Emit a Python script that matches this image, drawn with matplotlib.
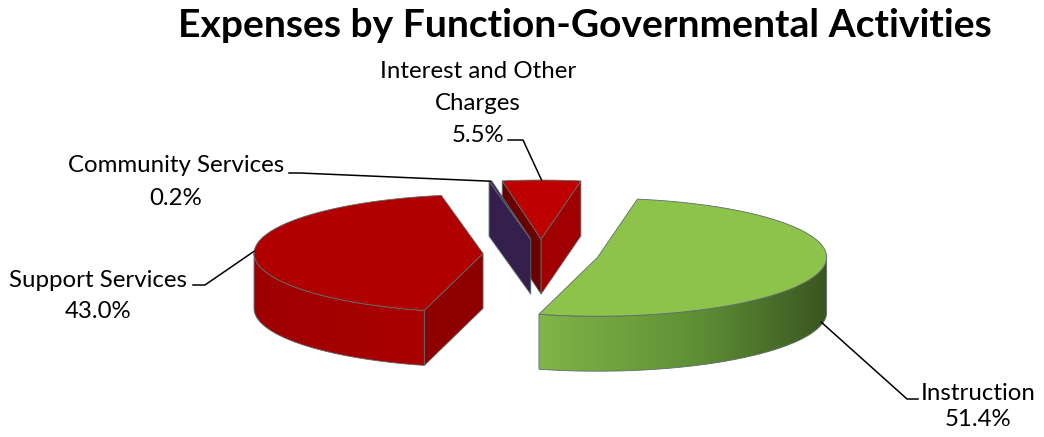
import numpy as np
import matplotlib.pyplot as plt
from matplotlib.patches import Polygon
from matplotlib.colors import to_rgb

# data
categories = ['Instruction', 'Support Services', 'Community Services', 'Interest and Other\nCharges']
shares = [51.4, 43.0, 0.2, 5.5]
pct_labels = ['51.4%', '43.0%', '0.2%', '5.5%']
title = 'Expenses by Function-Governmental Activities'

top_colors = ['#8DC34B', '#B00000', '#3A2152', '#BE0000']
# outer wall gradient, left -> right (position, colour)
wall_grad = [[(0, '#80B547'), (0.55, '#5F8F35'), (1, '#3A5621')],
             [(0, '#9E0000'), (1, '#AA0000')],
             [(0, '#33204A'), (1, '#33204A')],
             [(0, '#9A0000'), (1, '#9A0000')]]
side_start = ['#6E9A3A', '#8E0000', '#35204D', '#6A0000']  # radial face at slice start
side_end = ['#6E9A3A', '#8E0000', '#35204D', '#A00000']    # radial face at slice end

# pie geometry (pixels)
cx, cy = 541, 254
rx, ry = 229, 59
depth = 55
explode = 58
first_angle = 10

# label layout: center x, baselines, leader path start
label_x = [978, 98, 176, 478]
label_base = [[400, 426], [287, 318], [172, 205], [78, 110, 142]]
leader_start = [[(918, 399), (907, 399)], [(193, 285), (205, 285)],
                [(289, 173), (300, 173)], [(508, 140), (523, 140)]]
leader_drop = [0.95, 0, 0, 0]

fig = plt.figure(figsize=(10.44, 4.37), dpi=100)
ax = fig.add_axes([0, 0, 1, 1])
ax.axis('off')
renderer = fig.canvas.get_renderer()


def fit_size(text, target_w, weight='normal', base=20):
    t = ax.text(0, 0, text, fontsize=base, family='Lato', fontweight=weight)
    w = t.get_window_extent(renderer).width
    t.remove()
    return base * target_w / w


label_fs = fit_size('Community Services', 217)
title_fs = fit_size(title, 815, weight='bold')


def pt(theta, ox, oy, r=1.0, z=0.0):
    t = np.radians(theta)
    return (cx + ox + r * rx * np.sin(t), cy + oy - r * ry * np.cos(t) + z)


def gradient_poly(pts, stops, zo):
    xs = [p[0] for p in pts]
    ys = [p[1] for p in pts]
    pos = [s[0] for s in stops]
    cols = np.array([to_rgb(s[1]) for s in stops])
    f = np.linspace(0, 1, 256)
    grad = np.stack([np.interp(f, pos, cols[:, c]) for c in range(3)], axis=1)[None, :, :]
    im = ax.imshow(grad, extent=(min(xs), max(xs), max(ys), min(ys)), aspect='auto',
                   interpolation='bilinear', zorder=zo)
    clip = Polygon(pts, closed=True, transform=ax.transData)
    im.set_clip_path(clip)


edge = '#5F6B6E'
total = sum(shares)
bounds = first_angle + 360 * np.concatenate([[0], np.cumsum(shares)]) / total

slices = []
for i in range(len(shares)):
    a0, a1 = bounds[i], bounds[i + 1]
    mid = (a0 + a1) / 2
    ox = explode * np.sin(np.radians(mid))
    oy = -explode * ry / rx * np.cos(np.radians(mid))
    slices.append((cy + oy, i, a0, a1, mid, ox, oy))

zo = 1
# back to front
for _, i, a0, a1, mid, ox, oy in sorted(slices):
    apex = (cx + ox, cy + oy)
    apex_b = (cx + ox, cy + oy + depth)

    # radial faces that face the viewer
    for ang, normal, col in [(a0, a0 - 90, side_start[i]), (a1, a1 + 90, side_end[i])]:
        if np.cos(np.radians(normal)) >= 0:
            continue
        p = pt(ang, ox, oy)
        pb = pt(ang, ox, oy, z=depth)
        ax.add_patch(Polygon([apex, p, pb, apex_b], closed=True, facecolor=col,
                             edgecolor=edge, linewidth=0.6, zorder=zo))
        zo += 1

    # outer wall (front half only)
    for k in (0, 360):
        lo, hi = max(a0, 90 + k), min(a1, 270 + k)
        if lo >= hi:
            continue
        angs = np.linspace(lo, hi, 120)
        outline = [pt(a, ox, oy) for a in angs] + [pt(a, ox, oy, z=depth) for a in angs[::-1]]
        gradient_poly(outline, wall_grad[i], zo)
        zo += 1
        ax.add_patch(Polygon(outline, closed=True, fill=False, edgecolor=edge,
                             linewidth=0.6, zorder=zo))
        zo += 1

    # top face
    angs = np.linspace(a0, a1, max(3, int((a1 - a0) * 2)))
    top = [apex] + [pt(a, ox, oy) for a in angs]
    ax.add_patch(Polygon(top, closed=True, facecolor=top_colors[i],
                         edgecolor=edge, linewidth=0.6, zorder=zo))
    zo += 1

    # label and leader
    lines = categories[i].split('\n') + [pct_labels[i]]
    for txt, yb in zip(lines, label_base[i]):
        ax.text(label_x[i], yb, txt, ha='center', va='baseline', fontsize=label_fs,
                family='Lato', color='black', zorder=50)
    end = pt(mid, ox, oy, z=leader_drop[i] * depth)
    path = leader_start[i] + [end]
    ax.plot([p[0] for p in path], [p[1] for p in path], color='black',
            linewidth=1.1, zorder=50)

ax.text(585, 37, title, ha='center', va='baseline', fontsize=title_fs,
        fontweight='bold', family='Lato', color='black')

ax.set_xlim(0, 1044)
ax.set_ylim(437, 0)
fig.savefig('out.png', dpi=100)
